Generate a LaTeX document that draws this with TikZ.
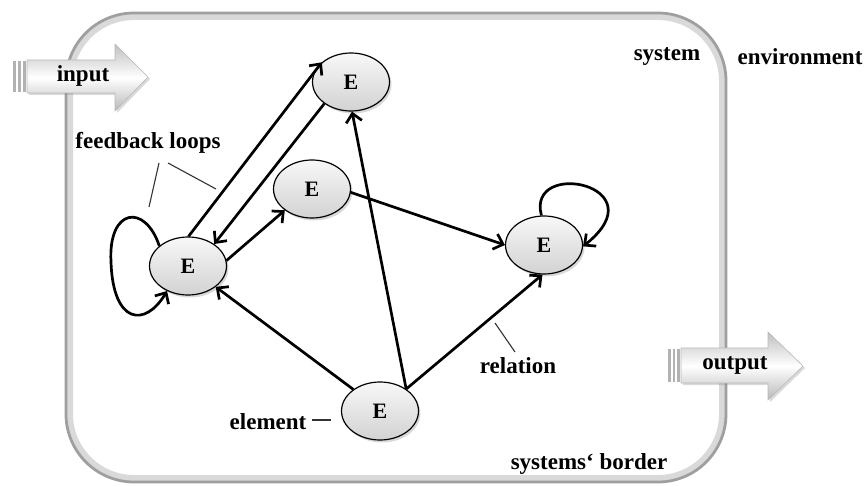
\documentclass[tikz,border=0pt]{standalone}
\usepackage{fontspec}
\setmainfont{Liberation Serif}
\usetikzlibrary{shapes.geometric,arrows.meta,shadows}
\begin{document}
\begin{tikzpicture}[x=1pt,y=-1pt,
  elem/.style={ellipse, draw=black, line width=1.2pt, minimum width=77pt, minimum height=58pt,
    inner sep=0pt, top color=gray!6, bottom color=gray!35,
    drop shadow={shadow xshift=2pt, shadow yshift=-2.5pt, opacity=0.3},
    font=\fontsize{22}{24}\selectfont\bfseries},
  rel/.style={line width=2.7pt, -{Straight Barb[length=8.5pt,width=16pt]}},
  lbl/.style={font=\fontsize{23}{26}\selectfont\bfseries, inner sep=0pt},
  ptr/.style={line width=1.1pt, black!80},
  blockarrow/.style={draw=gray!55, line width=0.6pt, top color=gray!50, bottom color=gray!55,
    middle color=white, drop shadow={shadow xshift=2pt, shadow yshift=-2pt, opacity=0.3}},
  tailbar/.style={fill=gray!60}
]
\useasboundingbox (0,0) rectangle (867,486);
% system border
\draw[rounded corners=64pt, gray!30, line width=6pt] (70,17) rectangle (722,478);
\draw[rounded corners=68pt, gray!75, line width=2.8pt] (66,13) rectangle (726,482);

% input arrow
\path[blockarrow] (27,60) -- (115,60) -- (115,44) -- (148,77) -- (115,111) -- (115,93) -- (27,93) -- cycle;
\path[tailbar] (13,61) rectangle (15.5,92);
\path[tailbar] (18,61) rectangle (20.5,92);
\path[tailbar] (23,61) rectangle (25.5,92);
\node[lbl] (input) at (83,76) {input};

% output arrow
\path[blockarrow] (681,348) -- (768,348) -- (768,332) -- (803,366) -- (768,400) -- (768,383) -- (681,383) -- cycle;
\path[tailbar] (668,349) rectangle (670.5,382);
\path[tailbar] (672.5,349) rectangle (675,382);
\path[tailbar] (677,349) rectangle (679.5,382);
\node[lbl] (output) at (735,365) {output};

% elements
\node[elem] (E1) at (188,266) {E};
\node[elem] (Etop) at (351,82) {E};
\node[elem] (Emid) at (312,189) {E};
\node[elem] (Er) at (544,245) {E};
\node[elem] (Eb) at (380,411) {E};

% relations
\draw[rel] (E1.89) -- (Etop.146);
\draw[rel] (Etop.219) -- (E1.40);
\draw[rel] (E1.8) -- (Emid.218);
\draw[rel] (Emid.-5) -- (Er.180);
\draw[rel] (Eb.141) -- (E1.-37);
\draw[rel] (Eb.40) -- (Etop.-88);
\draw[rel] (Eb.40) -- (Er.-93);
% feedback loops
\draw[rel] (E1.145) .. controls (145,203) and (108,208) .. (111,262)
  .. controls (113,324) and (145,328) .. (E1.-130);
\draw[rel] (Er.95) .. controls (526,158) and (660,185) .. (Er.-2);

% labels
\node[lbl] (system) at (667,57) {system};
\node[lbl] (env) at (800,57) {environment};
\node[lbl] (fb) at (148,143) {feedback loops};
\node[lbl] (relation) at (518,366) {relation};
\node[lbl] (element) at (268,422) {element};
\node[lbl] (border) at (589,464) {systems‘ border};

\coordinate (fbA) at (159,163);
\coordinate (fbA2) at (149,207);
\coordinate (fbB) at (168,163);
\coordinate (fbB2) at (216,189);
\draw[ptr] (fbA) -- (fbA2);
\draw[ptr] (fbB) -- (fbB2);
\coordinate (relA) at (495,323);
\coordinate (relB) at (515,352);
\draw[ptr] (relA) -- (relB);
\coordinate (elA) at (312,420);
\coordinate (elB) at (331,420);
\draw[ptr] (elA) -- (elB);
\end{tikzpicture}
\end{document}
